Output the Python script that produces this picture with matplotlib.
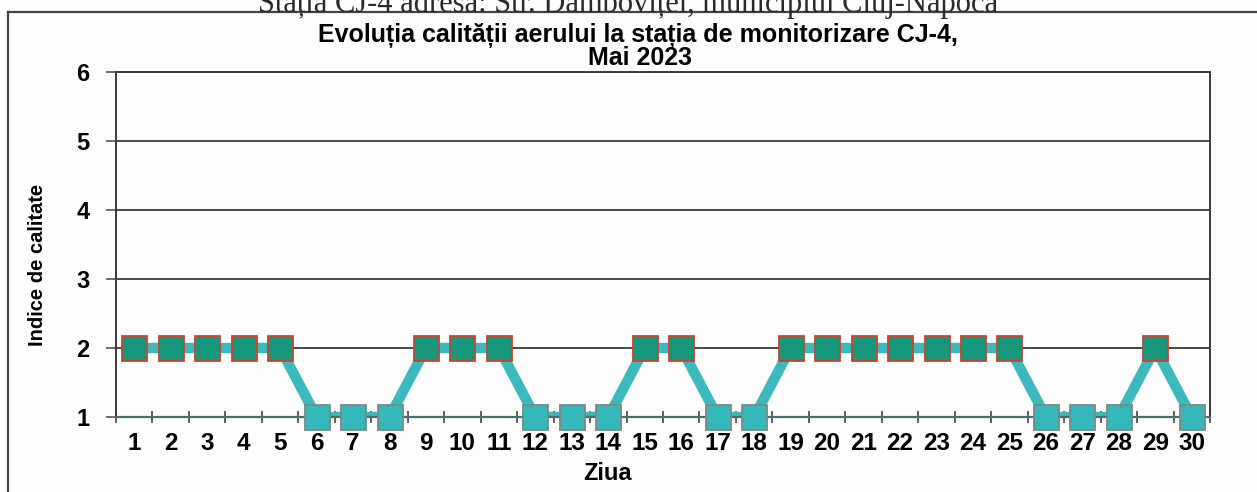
#!/usr/bin/env python3
import matplotlib.pyplot as plt
from matplotlib.lines import Line2D

# data
zile = list(range(1, 31))
indice = [2, 2, 2, 2, 2, 1, 1, 1, 2, 2, 2, 1, 1, 1, 2, 2, 1, 1,
          2, 2, 2, 2, 2, 2, 2, 1, 1, 1, 2, 1]
y_ticks = [1, 2, 3, 4, 5, 6]

titlu_1 = 'Evoluția calității aerului la stația de monitorizare CJ-4,'
titlu_2 = 'Mai 2023'
antet = 'Stația CJ-4 adresa: Str. Dâmboviței, municipiul Cluj-Napoca'

W, H = 1257, 492
fig = plt.figure(figsize=(W / 100, H / 100), dpi=100)
fig.patch.set_facecolor('#fdfdfe')

def fx(px):
    return px / W

def fy(py):
    return 1 - py / H

# page text above the chart, cut by the scan
fig.text(fx(628), fy(4), antet, ha='center', va='center',
         family='Liberation Serif', fontsize=22, color='#2a2a2a')

# outer chart frame (top and left edges visible)
fig.lines.append(Line2D([fx(8), 1.0], [fy(12), fy(12)], transform=fig.transFigure,
                        color='#444444', lw=1.6))
fig.lines.append(Line2D([fx(8), fx(8)], [fy(12), 0.0], transform=fig.transFigure,
                        color='#444444', lw=1.6))

ax = fig.add_axes([fx(116), fy(417), fx(1210) - fx(116), fy(72) - fy(417)])
ax.patch.set_alpha(0)

ax.set_xlim(0.5, 30.5)
ax.set_ylim(1, 6)

for v in y_ticks[1:-1]:
    ax.axhline(v, color='#3a3a3a', lw=1.3, zorder=1)

ax.plot(zile, indice, color='#3cb9bd', lw=7.5, zorder=2)

x2 = [z for z, v in zip(zile, indice) if v == 2]
y2 = [v for v in indice if v == 2]
x1 = [z for z, v in zip(zile, indice) if v == 1]
y1 = [v for v in indice if v == 1]
ax.plot(x2, y2, 's', ms=18, mfc='#17987d', mec='#c8432f', mew=1.3,
        zorder=4, clip_on=False)
ax.plot(x1, y1, 's', ms=18, mfc='#35b8bb', mec='#7a8a80', mew=1.3,
        zorder=4, clip_on=False)

for side in ['left', 'right', 'top']:
    ax.spines[side].set_color('#3a3a3a')
    ax.spines[side].set_linewidth(1.4)
ax.spines['bottom'].set_color('#4a6e6e')
ax.spines['bottom'].set_linewidth(1.6)

ax.set_yticks(y_ticks)
ax.set_yticklabels([str(v) for v in y_ticks], fontsize=17, fontweight='bold',
                   family='Liberation Sans')
ax.tick_params(axis='y', length=7, width=1.2, color='#555555', pad=12)

ax.set_xticks(zile)
ax.set_xticklabels([str(z) for z in zile], fontsize=17.5, fontweight='bold',
                   family='Liberation Sans')
ax.set_xticks([z + 0.5 for z in [0] + zile], minor=True)
ax.tick_params(axis='x', which='major', length=0, pad=11)
ax.tick_params(axis='x', which='minor', length=8, width=1.2, direction='inout',
               color='#444444')

ax.set_xlabel('Ziua', fontsize=17, fontweight='bold', family='Liberation Sans')
ax.xaxis.set_label_coords((fx(608) - fx(116)) / (fx(1210) - fx(116)), -0.163)
ax.xaxis.label.set_va('center')
ax.set_ylabel('Indice de calitate', fontsize=14.5, fontweight='bold',
              family='Liberation Sans')
ax.yaxis.set_label_coords((fx(47) - fx(116)) / (fx(1210) - fx(116)), 0.44)

fig.text(fx(638), fy(36), titlu_1, ha='center', va='center', fontsize=18,
         fontweight='bold', family='Liberation Sans')
fig.text(fx(640), fy(58), titlu_2, ha='center', va='center', fontsize=18,
         fontweight='bold', family='Liberation Sans')

plt.savefig('out.png', dpi=100)
